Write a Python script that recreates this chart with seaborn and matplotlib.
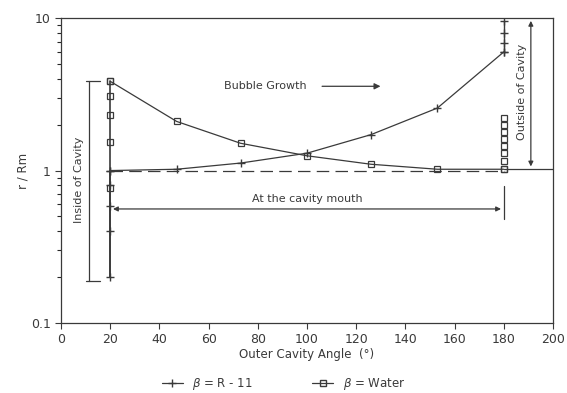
import numpy as np
import pandas as pd
import seaborn as sns
import matplotlib.pyplot as plt

# Curves
angle = [20, 47, 73, 100, 126, 153, 180]
r11_ratio = [1.0, 1.02, 1.12, 1.30, 1.72, 2.57, 6.0]
water_ratio = [3.85, 2.1, 1.51, 1.25, 1.10, 1.02, 1.02]

# Vertical stacks of points (inside / outside of cavity)
r11_inside = [0.2, 0.4, 0.59, 0.8, 1.0]
water_inside = [0.77, 1.55, 2.32, 3.07, 3.85]
r11_outside = [6.0, 6.9, 8.0, 9.6]
water_outside = [1.02, 1.15, 1.3, 1.45, 1.6, 1.8, 2.0, 2.2]

ink = "#3a3a3a"

sns.set_style("ticks")
plt.rcParams["font.family"] = ["DejaVu Sans"]

fig = plt.figure(figsize=(5.67, 3.93), dpi=100)
ax = fig.add_axes([0.1076, 0.178, 0.8677, 0.776])

df = pd.DataFrame({"angle": angle, "R-11": r11_ratio, "Water": water_ratio})

sns.lineplot(data=df, x="angle", y="R-11", ax=ax, color=ink, lw=0.9,
             marker="+", markersize=6, markeredgewidth=1.0, markeredgecolor=ink)
sns.lineplot(data=df, x="angle", y="Water", ax=ax, color=ink, lw=0.9,
             marker="s", markersize=5, markerfacecolor="none",
             markeredgewidth=0.9, markeredgecolor=ink)

# stacks at 20 and 180 degrees
ax.plot([20] * len(r11_inside), r11_inside, color=ink, lw=1.2, marker="+",
        markersize=6, mew=1.0)
ax.plot([20, 20], [min(r11_inside), max(water_inside)], color=ink, lw=1.2)
ax.plot([20] * len(water_inside), water_inside, ls="none", marker="s",
        markersize=5, mfc="none", mec=ink, mew=0.9)
ax.plot([180] * len(r11_outside), r11_outside, color=ink, lw=1.0, marker="+",
        markersize=6, mew=1.0)
ax.plot([180] * len(water_outside), water_outside, ls="none", marker="s",
        markersize=4.5, mfc="none", mec=ink, mew=0.9)

# reference line r/Rm = 1
ax.plot([20, 180], [1.0, 1.0], color=ink, lw=0.9, ls=(0, (10, 5)))
ax.plot([180, 200], [1.02, 1.02], color=ink, lw=0.9)

# inside of cavity bracket
ax.plot([11.5, 11.5], [0.19, 3.85], color=ink, lw=0.9)
ax.plot([10, 16], [3.85, 3.85], color=ink, lw=0.9)
ax.plot([10, 16], [0.19, 0.19], color=ink, lw=0.9)
ax.text(7.3, 0.87, "Inside of Cavity", rotation=90, ha="center", va="center",
        fontsize=8, color=ink)

# outside of cavity bracket
ax.annotate("", xy=(191, 10), xytext=(191, 1.02),
            arrowprops=dict(arrowstyle="<|-|>", color=ink, lw=0.9, mutation_scale=7))
ax.text(187.4, 3.3, "Outside of Cavity", rotation=90, ha="center", va="center",
        fontsize=8, color=ink)

# at the cavity mouth
ax.annotate("", xy=(20, 0.56), xytext=(180, 0.56),
            arrowprops=dict(arrowstyle="<|-|>", color=ink, lw=0.9, mutation_scale=7))
ax.plot([180, 180], [0.48, 0.79], color=ink, lw=0.9)
ax.text(100, 0.65, "At the cavity mouth", ha="center", va="center",
        fontsize=8, color=ink)

# bubble growth
ax.text(83, 3.57, "Bubble Growth", ha="center", va="center", fontsize=8, color=ink)
ax.annotate("", xy=(131, 3.57), xytext=(105, 3.57),
            arrowprops=dict(arrowstyle="-|>", color=ink, lw=0.9, mutation_scale=9))

ax.set_yscale("log")
ax.set_xlim(0, 200)
ax.set_ylim(0.1, 10)
ax.set_xticks(np.arange(0, 201, 20))
ax.set_yticks([0.1, 1, 10])
ax.set_yticklabels(["0.1", "1", "10"])
ax.tick_params(axis="both", labelsize=9, colors=ink, length=4, width=0.8)
ax.tick_params(axis="y", which="minor", length=3, width=0.8)
for s in ax.spines.values():
    s.set_color(ink)
    s.set_linewidth(0.9)

ax.set_xlabel("Outer Cavity Angle  (°)", fontsize=8.5, color=ink, labelpad=1)
ax.set_ylabel("r / Rm", fontsize=8.5, color=ink, labelpad=1)

h1 = plt.Line2D([], [], color=ink, lw=0.9, marker="+", markersize=6)
h2 = plt.Line2D([], [], color=ink, lw=0.9, marker="s", markersize=4.5, mfc="none")
fig.legend([h1, h2], [r"$\beta$ = R - 11", r"$\beta$ = Water"], loc="lower center",
           bbox_to_anchor=(0.5, -0.025), ncol=2, frameon=False, fontsize=8.5,
           columnspacing=5, handlelength=1.8, labelcolor=ink)

fig.savefig("out.png", dpi=100)
